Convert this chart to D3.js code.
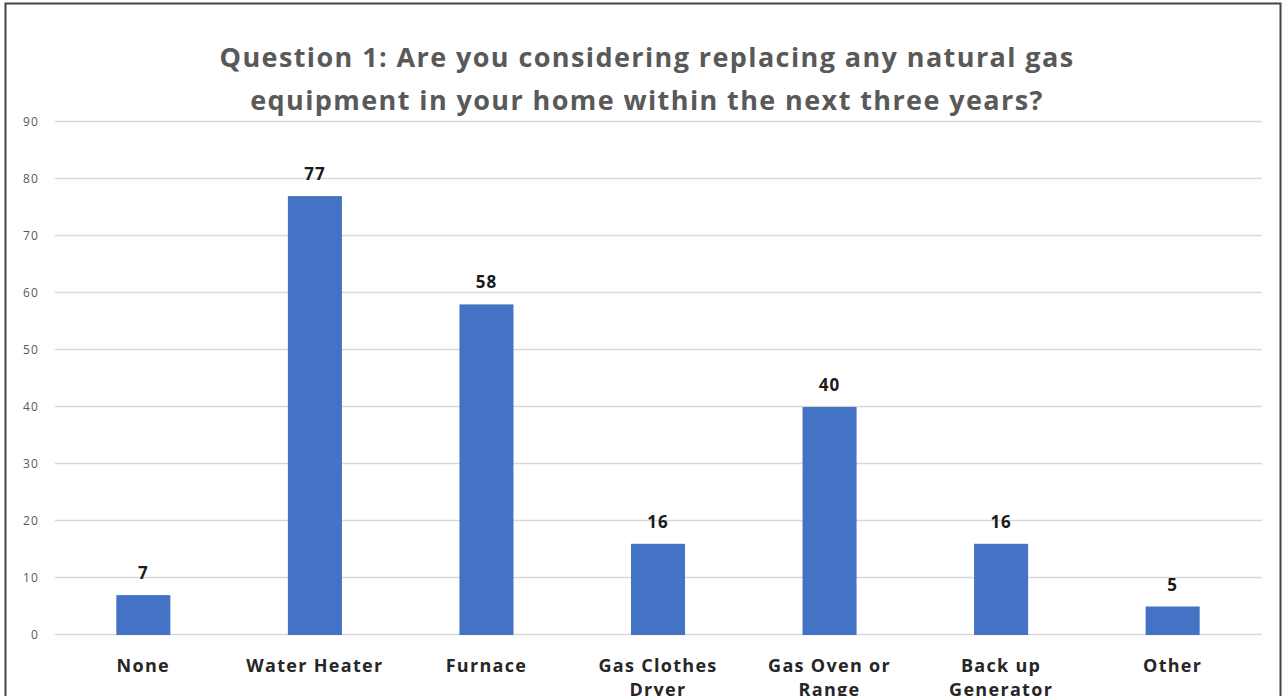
<!DOCTYPE html>
<html><head><meta charset="utf-8">
<script src="https://cdn.jsdelivr.net/npm/d3@7"></script>
<style>html,body{margin:0;padding:0;background:#fff;overflow:hidden}</style>
</head><body>
<script>
const categories = [["None"],["Water Heater"],["Furnace"],["Gas Clothes","Dryer"],["Gas Oven or","Range"],["Back up","Generator"],["Other"]];
const values = [7,77,58,16,40,16,5];
const yTicks = [0,10,20,30,40,50,60,70,80,90];
const titleLines = ["Question 1: Are you considering replacing any natural gas","equipment in your home within the next three years?"];

const W=1283,H=696;
const svg=d3.select("body").append("svg").attr("width",W).attr("height",H);
svg.append("rect").attr("x",0).attr("y",0).attr("width",W).attr("height",H).attr("fill","#fff");
// frame
svg.append("rect").attr("x",5.5).attr("y",3.5).attr("width",1275).attr("height",720)
  .attr("fill","none").attr("stroke","#444").attr("stroke-width",2);

const m={left:58,right:1258,top:122,bottom:635};
const x=d3.scaleBand().domain(d3.range(categories.length)).range([m.left,m.right]).paddingInner(0.685).paddingOuter(0.34);
const y=d3.scaleLinear().domain([0,90]).range([m.bottom,m.top]);

const font="'Open Sans', 'Noto Sans', sans-serif";
// grid
svg.append("g").selectAll("line").data(yTicks).join("line")
  .attr("x1",55).attr("x2",1262).attr("y1",d=>Math.round(y(d))-0.5).attr("y2",d=>Math.round(y(d))-0.5)
  .attr("stroke","#d9d9d9").attr("stroke-width",1.5);
// y axis labels
const ya=d3.axisLeft(y).tickValues(yTicks).tickSize(0).tickPadding(0);
const yg=svg.append("g").attr("transform","translate(39,0)").call(ya);
yg.select(".domain").remove();
yg.selectAll("text").attr("font-family",font).attr("font-size",12).attr("letter-spacing",1.2).attr("fill","#595959");

// bars
svg.append("g").selectAll("rect").data(values).join("rect")
  .attr("x",(d,i)=>x(i)).attr("width",x.bandwidth())
  .attr("y",d=>y(d)).attr("height",d=>y(0)-y(d)).attr("fill","#4472c4");
// value labels
svg.append("g").selectAll("text").data(values).join("text")
  .attr("x",(d,i)=>x(i)+x.bandwidth()/2).attr("y",d=>y(d)-16)
  .attr("text-anchor","middle").attr("font-family",font).attr("font-weight","bold")
  .attr("font-size",17).attr("letter-spacing",1).attr("fill","#1a1a1a").text(d=>d);
// x labels
const xl=svg.append("g").selectAll("text").data(categories).join("text")
  .attr("x",(d,i)=>x(i)+x.bandwidth()/2).attr("y",672)
  .attr("text-anchor","middle").attr("font-family",font).attr("font-weight","bold")
  .attr("font-size",18).attr("letter-spacing",1.3).attr("fill","#262626");
xl.selectAll("tspan").data(d=>d).join("tspan")
  .attr("x",function(){return d3.select(this.parentNode).attr("x");})
  .attr("dy",(d,i)=>i?24:0).text(d=>d);
// title
svg.append("g").selectAll("text").data(titleLines).join("text")
  .attr("x",647).attr("y",(d,i)=>67+i*43).attr("text-anchor","middle")
  .attr("font-family",font).attr("font-weight","bold").attr("font-size",27).attr("letter-spacing",1.4)
  .attr("fill","#595959").text(d=>d);
</script>
</body></html>
